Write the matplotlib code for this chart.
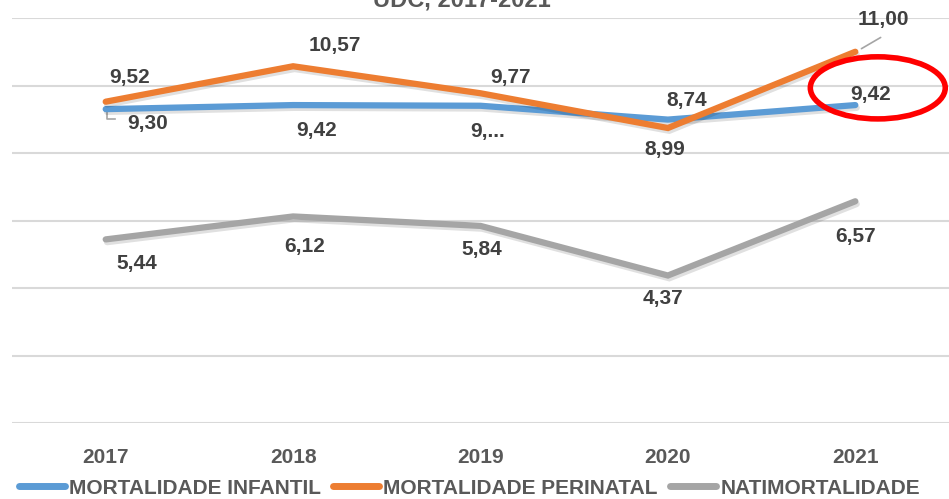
import numpy as np
import matplotlib
matplotlib.use("Agg")
import matplotlib.pyplot as plt
from matplotlib.patches import Ellipse
import matplotlib.patheffects as pe

plt.rcParams['font.family'] = ['Liberation Sans', 'DejaVu Sans']
plt.rcParams['font.weight'] = 'bold'

anos = ["2017", "2018", "2019", "2020", "2021"]
infantil = [9.30, 9.42, 9.40, 8.99, 9.42]
perinatal = [9.52, 10.57, 9.77, 8.74, 11.00]
natimort = [5.44, 6.12, 5.84, 4.37, 6.57]

lab_inf = ["9,30", "9,42", "9,...", "8,99", "9,42"]
lab_per = ["9,52", "10,57", "9,77", "8,74", "11,00"]
lab_nat = ["5,44", "6,12", "5,84", "4,37", "6,57"]

# label offsets in pixels (dx, dy)
off_inf = [(42, -14), (24, -25), (7, -26), (-3, -30), (15, 11)]
off_per = [(24, 24), (42, 21), (30, 16), (19, 28), (28, 32)]
off_nat = [(31, -24), (12, -30), (1, -24), (-5, -23), (0, -35)]

azul = "#5B9BD5"
laranja = "#ED7D31"
cinza = "#A5A5A5"
txt = "#404040"

fig = plt.figure(figsize=(9.49, 4.99), dpi=100)
ax = fig.add_axes([12/949, 76/499, 937/949, 405/499])
x = np.arange(len(anos))

sombra = [pe.SimpleLineShadow(offset=(1, -2), shadow_color='black', alpha=0.12), pe.Normal()]
ax.plot(x, natimort, color=cinza, lw=4.5, solid_capstyle='round', solid_joinstyle='miter',
        path_effects=sombra, label="NATIMORTALIDADE", zorder=3)
ax.plot(x, infantil, color=azul, lw=4.5, solid_capstyle='round', solid_joinstyle='miter',
        path_effects=sombra, label="MORTALIDADE INFANTIL", zorder=4)
ax.plot(x, perinatal, color=laranja, lw=4.5, solid_capstyle='round', solid_joinstyle='miter',
        path_effects=sombra, label="MORTALIDADE PERINATAL", zorder=5)

for vals, labs, offs in [(infantil, lab_inf, off_inf), (perinatal, lab_per, off_per), (natimort, lab_nat, off_nat)]:
    for i in range(len(vals)):
        ax.annotate(labs[i], (x[i], vals[i]), xytext=offs[i], textcoords='offset pixels',
                    ha='center', va='center', fontsize=15, color=txt, zorder=6,
                    annotation_clip=False)

# leader lines
ax.annotate("", (x[4] + 0.02, perinatal[4] + 0.05), xytext=(24, 14), textcoords='offset pixels',
            arrowprops=dict(arrowstyle='-', color=cinza, lw=1.2))
ax.plot([x[0] + 0.005, x[0] + 0.005, x[0] + 0.05], [infantil[0] - 0.05, infantil[0] - 0.3, infantil[0] - 0.3],
        color=cinza, lw=1.2, zorder=2)

ax.add_patch(Ellipse((4.12, 9.93), 0.72, 1.84, fill=False, ec='#FF0000', lw=4, clip_on=False, zorder=7))

ax.set_xlim(-0.5, 4.5)
ax.set_ylim(0, 12)
ax.set_yticks(np.arange(0, 13, 2))
ax.set_yticklabels([])
ax.yaxis.grid(True, color='#D9D9D9', lw=1.5)
ax.set_axisbelow(True)
ax.tick_params(length=0)
ax.set_xticks(x)
ax.set_xticklabels(anos, fontsize=15, color='#595959', fontweight='bold')
ax.tick_params(axis='x', pad=18)
for s in ax.spines.values():
    s.set_visible(False)

fig.text(0.487, 1 - 6/499, "UDC, 2017-2021", ha='center', va='baseline', fontsize=17,
         color='#595959', fontweight='bold')

h, l = ax.get_legend_handles_labels()
order = [1, 2, 0]
leg = fig.legend([h[k] for k in order], [l[k] for k in order], loc='lower left',
                 bbox_to_anchor=(0.0, -0.035), ncol=3, frameon=False, fontsize=15,
                 handlelength=2.2, handletextpad=0.2, columnspacing=0.6, labelcolor='#595959')
for line in leg.get_lines():
    line.set_linewidth(5)
    line.set_path_effects([])

fig.savefig("out.png", dpi=100)
